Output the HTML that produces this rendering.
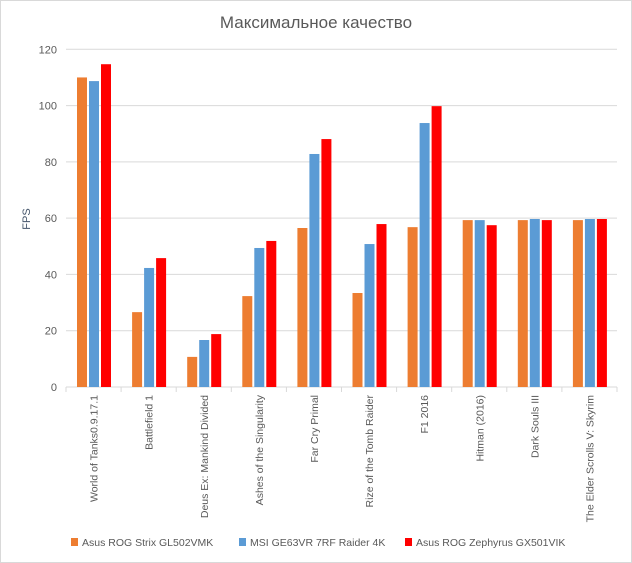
<!DOCTYPE html>
<html><head><meta charset="utf-8"><style>
body{margin:0;background:#fff;}
svg{display:block;font-family:"Liberation Sans","DejaVu Sans",sans-serif;}
</style></head><body>
<svg id="chart" width="632" height="563">
<rect x="0.5" y="0.5" width="631" height="562" fill="#fff" stroke="#d9d9d9"/>
<text x="316" y="28" text-anchor="middle" font-size="17" fill="#595959">Максимальное качество</text>
<text x="0" y="0" transform="translate(30,219) rotate(-90)" text-anchor="middle" font-size="11" fill="#44546a">FPS</text>
<g id="grid"></g><g id="bars"></g><g id="xlabels"></g>
<g>
<rect x="71" y="538" width="7" height="8" fill="#ed7d31"/>
<text x="82" y="546" font-size="10.5" fill="#595959">Asus ROG Strix GL502VMK</text>
<rect x="239" y="538" width="7" height="8" fill="#5b9bd5"/>
<text x="250" y="546" font-size="10.5" fill="#595959">MSI GE63VR 7RF Raider 4K</text>
<rect x="405" y="538" width="7" height="8" fill="#ff0000"/>
<text x="416" y="546" font-size="10.5" fill="#595959">Asus ROG Zephyrus GX501VIK</text>
</g>
</svg>
<script>
const categories=["World of Tanks0.9.17.1","Battlefield 1","Deus Ex: Mankind Divided","Ashes of the Singularity","Far Cry Primal","Rize of the Tomb Raider","F1 2016","Hitman (2016)","Dark Souls III","The Elder Scrolls V: Skyrim"];
const strixValues=[110,26.6,10.7,32.3,56.5,33.4,56.8,59.3,59.3,59.3];
const msiValues=[108.7,42.3,16.7,49.4,82.8,50.8,93.8,59.3,59.7,59.7];
const zephyrusValues=[114.7,45.8,18.8,51.9,88.1,57.9,99.8,57.5,59.3,59.7];
const yTicks=[0,20,40,60,80,100,120];
const NS="http://www.w3.org/2000/svg";
const x0=66,x1=617,y0=387,y1=49.3,yMax=120;
const catW=(x1-x0)/categories.length;
function yScale(v){return y0-(v/yMax)*(y0-y1);}
function xCat(i){return x0+i*catW;}
const grid=document.getElementById('grid');
yTicks.forEach(t=>{
  const y=yScale(t);
  const l=document.createElementNS(NS,'line');
  l.setAttribute('x1',x0);l.setAttribute('x2',x1);l.setAttribute('y1',y);l.setAttribute('y2',y);
  l.setAttribute('stroke','#d9d9d9');
  
  
  grid.appendChild(l);
  const tx=document.createElementNS(NS,'text');
  tx.setAttribute('x',57);tx.setAttribute('y',y+4);tx.setAttribute('text-anchor','end');
  tx.setAttribute('font-size','11');tx.setAttribute('fill','#595959');
  tx.textContent=t;
  
  
  grid.appendChild(tx);
});
for(let i=0;i<=categories.length;i++){
  const l=document.createElementNS(NS,'line');
  const x=xCat(i);
  l.setAttribute('x1',x);l.setAttribute('x2',x);l.setAttribute('y1',y0);l.setAttribute('y2',y0+5);
  l.setAttribute('stroke','#d9d9d9');
  
  
  grid.appendChild(l);
}
const bars=document.getElementById('bars');
const series=[[strixValues,'#ed7d31','strix'],[msiValues,'#5b9bd5','msi'],[zephyrusValues,'#ff0000','zephyrus']];
series.forEach((s,si)=>{
  s[0].forEach((v,i)=>{
    const r=document.createElementNS(NS,'rect');
    const x=xCat(i)+11+si*12;
    r.setAttribute('x',x);r.setAttribute('width',10);
    r.setAttribute('y',yScale(v));r.setAttribute('height',y0-yScale(v));
    r.setAttribute('fill',s[1]);
    
    
    bars.appendChild(r);
  });
});
const xl=document.getElementById('xlabels');
categories.forEach((c,i)=>{
  const t=document.createElementNS(NS,'text');
  const cx=xCat(i)+catW/2+4;
  t.setAttribute('transform','translate('+cx+',395) rotate(-90)');
  t.setAttribute('text-anchor','end');t.setAttribute('font-size','10.5');t.setAttribute('fill','#595959');
  t.textContent=c;
  
  
  xl.appendChild(t);
});
</script>
</body></html>
